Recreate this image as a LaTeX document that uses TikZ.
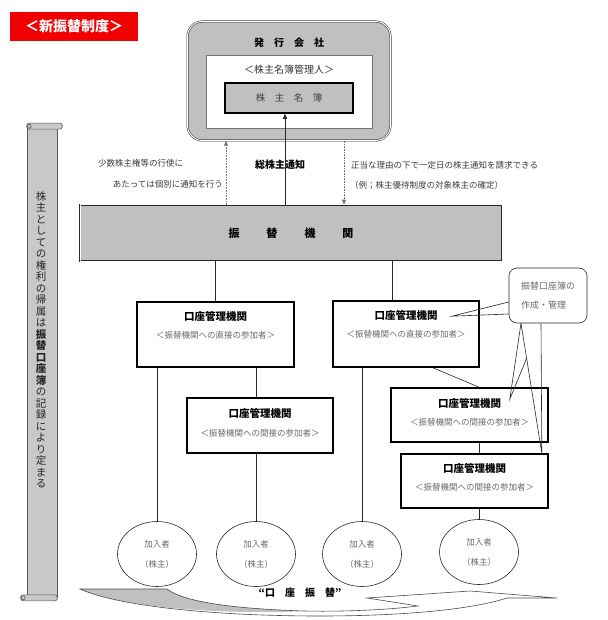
\documentclass[tikz,border=0pt]{standalone}
\usepackage{fontspec}
\setmainfont{Noto Sans CJK JP}
\usepackage{xcolor}
\usepackage{tikz}
\usetikzlibrary{
  positioning,
  arrows.meta,
  shapes.geometric,
  calc
}
\definecolor{titlered}{RGB}{240,0,0}
\definecolor{panelgray}{RGB}{192,192,192}
\definecolor{scrollgray}{RGB}{200,200,200}
\definecolor{subgray}{RGB}{105,105,105}
\definecolor{notegray}{RGB}{60,60,60}
\definecolor{linecolor}{RGB}{40,40,40}
\tikzset{
  titlebox/.style={
    fill=titlered, text=white, minimum width=128pt, minimum height=29pt,
    inner sep=0pt, font=\fontsize{14}{16}\selectfont\bfseries
  },
  issuerbox/.style={
    draw=linecolor, double=white, double distance=1pt, line width=0.5pt,
    fill=panelgray, rounded corners=15pt,
    minimum width=203pt, minimum height=119pt, inner sep=0pt
  },
  managerbox/.style={
    draw=black!55, fill=white, line width=0.5pt,
    minimum width=166pt, minimum height=73pt, inner sep=0pt
  },
  registerbox/.style={
    draw=black, line width=1.6pt, fill=panelgray,
    minimum width=128pt, minimum height=30pt, inner sep=0pt,
    font=\fontsize{9.5}{11}\selectfont, text=black!75
  },
  bankbox/.style={
    draw=linecolor, double=white, double distance=1pt, line width=0.5pt,
    fill=panelgray, minimum width=422pt, minimum height=56pt, inner sep=0pt,
    font=\fontsize{11}{13}\selectfont\bfseries
  },
  acctbox/.style={
    draw=black, line width=1.6pt, fill=white, inner sep=0pt
  },
  accttext/.style={
    inner sep=0pt, align=center, font=\fontsize{10.5}{12}\selectfont
  },
  member/.style={
    ellipse, draw=linecolor, line width=0.6pt,
    minimum width=79pt, minimum height=65pt, inner sep=0pt,
    align=center, text=subgray, font=\fontsize{8.5}{11}\selectfont
  },
  callout/.style={
    draw=linecolor, line width=0.6pt, fill=white, rounded corners=8pt,
    minimum width=78pt, minimum height=55pt, inner sep=0pt,
    align=left, text=subgray, font=\fontsize{9}{19}\selectfont
  },
  notetext/.style={
    inner sep=0pt, text=notegray, font=\fontsize{8.5}{10}\selectfont
  },
  headtext/.style={
    inner sep=0pt, font=\fontsize{10}{12}\selectfont\bfseries
  },
  scrollbody/.style={
    draw=black!65, fill=scrollgray, line width=0.6pt,
    minimum width=30pt, minimum height=471pt, inner sep=0pt
  },
  scrollroll/.style={
    draw=black!65, fill=scrollgray, line width=0.6pt
  },
  scrolltext/.style={
    inner sep=0pt, align=center, text=black!85,
    font=\fontsize{10.5}{11.5}\selectfont
  },
  link/.style={
    draw=linecolor, line width=0.6pt
  },
  solidarrow/.style={
    link, -{Triangle[length=5pt, width=4pt]}
  },
  dotarrow/.style={
    draw=black!55, line width=0.6pt, densely dotted,
    -{Triangle[length=5pt, width=4pt]}
  },
  transferarrow/.style={
    draw=black!70, line width=0.6pt
  }
}

\begin{document}
\begin{tikzpicture}[x=1pt, y=-1pt]

    \path[use as bounding box, fill=white] (0,0) rectangle (607,620);

    \node[titlebox] (title) at (74,26.5) {＜新振替制度＞};

    % issuing company
    \node[issuerbox] (issuer) at (289,81) {};
    \node[headtext, below=17pt of issuer.north] (issuername) {発　行　会　社};
    \node[managerbox] (manager) at (289,91.5) {};
    \node[headtext, font=\fontsize{10}{12}\selectfont, text=black!80, below=10pt of manager.north] (managername) {＜株主名簿管理人＞};
    \node[registerbox] (register) at (289,98) {株　主　名　簿};

    % book-entry transfer institution
    \node[bankbox] (bank) at (291,233) {振\hspace{27pt}替\hspace{27pt}機\hspace{27pt}関};

    \node[notetext, anchor=west] (notesplit1) at (98,163) {少数株主権等の行使に};
    \node[notetext, anchor=east] (notesplit2) at (223,184) {あたっては個別に通知を行う};
    \node[headtext] (notetotal) at (280,165) {総株主通知};
    \node[notetext, anchor=west] (noterequest1) at (351,165) {正当な理由の下で一定日の株主通知を請求できる};
    \node[notetext, anchor=west] (noterequest2) at (350,185) {（例；株主優待制度の対象株主の確定）};

    \coordinate (leftup) at ([xshift=-63pt]issuer.south);
    \coordinate (notifyx) at ([xshift=-4pt]register.south);
    \coordinate (rightdown) at ([xshift=55pt]issuer.south);
    \draw[dotarrow] (leftup |- bank.north) -- (leftup);
    \draw[solidarrow] (notifyx |- bank.north) -- (notifyx);
    \draw[dotarrow] (rightdown) -- (rightdown |- bank.north);

    % account management institutions
    \node[acctbox, minimum width=157pt, minimum height=65pt] (acctA) at (215.5,334.5) {};
    \node[accttext, below=10pt of acctA.north] (acctAtext) {\textbf{口座管理機関}\\[6pt]{\color{subgray}\fontsize{8.5}{10}\selectfont ＜振替機関への直接の参加者＞}};
    \node[acctbox, minimum width=146pt, minimum height=66pt] (acctB) at (406,334) {};
    \node[accttext, below=10pt of acctB.north] (acctBtext) {\textbf{口座管理機関}\\[6pt]{\color{subgray}\fontsize{8.5}{10}\selectfont ＜振替機関への直接の参加者＞}};
    \node[acctbox, minimum width=146pt, minimum height=55pt] (acctC) at (260,425.5) {};
    \node[accttext, below=11pt of acctC.north] (acctCtext) {\textbf{口座管理機関}\\[7pt]{\color{subgray}\fontsize{8.5}{10}\selectfont ＜振替機関への間接の参加者＞}};
    \node[acctbox, minimum width=157pt, minimum height=54pt] (acctD) at (469.5,415) {};
    \node[accttext, below=11pt of acctD.north] (acctDtext) {\textbf{口座管理機関}\\[6pt]{\color{subgray}\fontsize{8.5}{10}\selectfont ＜振替機関への間接の参加者＞}};
    \node[acctbox, minimum width=147pt, minimum height=54pt] (acctE) at (474.5,481) {};
    \node[accttext, below=10pt of acctE.north] (acctEtext) {\textbf{口座管理機関}\\[6pt]{\color{subgray}\fontsize{8.5}{10}\selectfont ＜振替機関への間接の参加者＞}};

    % participants
    \node[member] (member1) at (157,554) {加入者\\[9pt]（株主）};
    \node[member] (member2) at (256,554) {加入者\\[9pt]（株主）};
    \node[member] (member3) at (362,554) {加入者\\[9pt]（株主）};
    \node[member] (member4) at (479,552) {加入者\\[9pt]（株主）};

    \coordinate (bdrop) at ([xshift=-14pt]acctB.north);
    \draw[link] (acctA.north |- bank.south) -- (acctA.north);
    \draw[link] (bdrop |- bank.south) -- (bdrop);
    \draw[link] (member1.north |- acctA.south) -- (member1.north);
    \draw[link] (member2.north |- acctA.south) -- (member2.north |- acctC.north);
    \draw[link] (member2.north |- acctC.south) -- (member2.north);
    \draw[link] (member3.north |- acctB.south) -- (member3.north);
    \draw[link] ([xshift=27pt]acctB.south) -- (member4.north |- acctD.north);
    \draw[link] (member4.north |- acctD.south) -- (member4.north |- acctE.north);
    \draw[link] (member4.north |- acctE.south) -- (member4.north);

    % callout
    \node[callout] (callout) at (548,295.5) {振替口座簿の\\作成・管理};
    \coordinate (tipB) at ($(acctB.north east)+(-28,16)$);
    \coordinate (tipD) at ($(acctD.north east)+(-39,12)$);
    \coordinate (tipE) at ($(acctE.north east)+(-7,0)$);
    \coordinate (baseL) at ($(callout.south)+(-27,0)$);
    \coordinate (baseR) at ($(callout.south)+(-7,0)$);
    \draw[link] ($(callout.west)+(0,6.5)$) -- (tipB) -- ($(callout.west)+(0,18.5)$);
    \draw[link] (baseL) -- (tipD) -- ($(tipD)!0.54!(baseR)$);
    \draw[link] (baseL) -- (tipE) -- (baseR);

    % scroll on the left
    \node[scrollbody] (scroll) at (42,362) {};
    \draw[scrollroll, rounded corners=2.5pt] ($(scroll.north west)+(0,-3)$) rectangle ($(scroll.north east)+(5,3)$);
    \draw[scrollroll] ($(scroll.north west)+(2.5,0)$) circle (2pt);
    \draw[scrollroll, rounded corners=2.5pt] ($(scroll.south west)+(-6,-3)$) rectangle ($(scroll.south east)+(0,3)$);
    \draw[scrollroll] ($(scroll.south west)+(-3.5,0)$) circle (2pt);
    \node[scrolltext] (scrolltxt) at (41,340) {株\\主\\と\\し\\て\\の\\権\\利\\の\\帰\\属\\は\\\textbf{振}\\\textbf{替}\\\textbf{口}\\\textbf{座}\\\textbf{簿}\\の\\記\\録\\に\\よ\\り\\定\\ま\\る};

    % transfer arrow at the bottom
    \fill[panelgray] (80,589) -- (167,589) .. controls (185,603) and (240,609) .. (305,611) .. controls (220,615) and (120,607) .. (80,589) -- cycle;
    \draw[transferarrow] (80,589) -- (167,589) .. controls (185,603) and (240,609) .. (305,611) .. controls (350,612) and (395,609) .. (418,606) -- (367,598) -- (470,591) -- (557,598) -- (507,598) .. controls (470,610) and (400,616) .. (320,616) .. controls (220,616) and (120,607) .. (80,589) -- cycle;
    \node[headtext] (transfer) at (300,593) {“口　座　振　替”};

\end{tikzpicture}
\end{document}
